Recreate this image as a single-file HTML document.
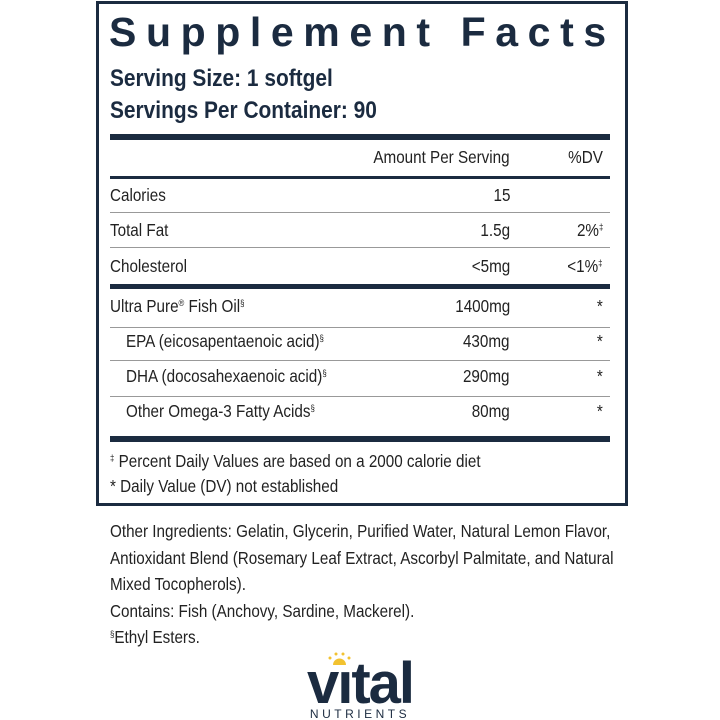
<!DOCTYPE html>
<html><head><meta charset="utf-8"><style>
body{margin:0;width:720px;height:720px;background:#fff;position:relative;overflow:hidden;font-family:"Liberation Sans",sans-serif;color:#222;}
.a{position:absolute;white-space:nowrap;}
.c{transform:scaleX(0.87);transform-origin:left top;}
.amt,.dv{transform:scaleX(0.87);transform-origin:right top;text-align:right;}
.amt{right:210px;}
.dv{right:117px;}
.box{position:absolute;left:96px;top:1px;width:526px;height:499px;border:3px solid #1b2b40;}
.r{position:absolute;left:110px;width:500px;background:#1b2b40;}
.t{font-size:17.5px;line-height:20px;}
sup{font-size:9px;vertical-align:6px;line-height:0;}
</style></head><body>
<div class="box"></div>
<div class="a" style="left:109px;top:10px;font-weight:bold;font-size:41px;line-height:44px;letter-spacing:9.6px;color:#1b2b40;">Supplement&nbsp;Facts</div>
<div class="a c" style="left:110px;top:65px;font-size:24px;font-weight:bold;color:#1b2b40;">Serving Size: 1 softgel</div>
<div class="a c" style="left:110px;top:97px;font-size:24px;font-weight:bold;color:#1b2b40;">Servings Per Container: 90</div>
<div class="r" style="top:134px;height:6px"></div>
<div class="a t amt" style="top:147px">Amount Per Serving</div>
<div class="a t dv" style="top:147px">%DV</div>
<div class="r" style="top:176px;height:3px"></div>
<div class="a t c" style="left:110px;top:185px">Calories</div><div class="a t amt" style="top:185px">15</div>
<div class="r" style="top:212px;height:1px;background:#999"></div>
<div class="a t c" style="left:110px;top:220px">Total Fat</div><div class="a t amt" style="top:220px">1.5g</div><div class="a t dv" style="top:220px">2%<sup>‡</sup></div>
<div class="r" style="top:247px;height:1px;background:#999"></div>
<div class="a t c" style="left:110px;top:256px">Cholesterol</div><div class="a t amt" style="top:256px">&lt;5mg</div><div class="a t dv" style="top:256px">&lt;1%<sup>‡</sup></div>
<div class="r" style="top:284px;height:5px"></div>
<div class="a t c" style="left:110px;top:296px">Ultra Pure<sup>®</sup> Fish Oil<sup>§</sup></div><div class="a t amt" style="top:296px">1400mg</div><div class="a t dv" style="top:296px">*</div>
<div class="r" style="top:327px;height:1px;background:#999"></div>
<div class="a t c" style="left:126px;top:331px">EPA (eicosapentaenoic acid)<sup>§</sup></div><div class="a t amt" style="top:331px">430mg</div><div class="a t dv" style="top:331px">*</div>
<div class="r" style="top:360px;height:1px;background:#999"></div>
<div class="a t c" style="left:126px;top:366px">DHA (docosahexaenoic acid)<sup>§</sup></div><div class="a t amt" style="top:366px">290mg</div><div class="a t dv" style="top:366px">*</div>
<div class="r" style="top:396px;height:1px;background:#999"></div>
<div class="a t c" style="left:126px;top:401px">Other Omega-3 Fatty Acids<sup>§</sup></div><div class="a t amt" style="top:401px">80mg</div><div class="a t dv" style="top:401px">*</div>
<div class="r" style="top:436px;height:6px"></div>
<div class="a t c" style="left:110px;top:451px"><sup>‡</sup> Percent Daily Values are based on a 2000 calorie diet</div>
<div class="a t c" style="left:110px;top:476px">* Daily Value (DV) not established</div>
<div class="a t c" style="left:110px;top:518px;line-height:26.5px;">Other Ingredients: Gelatin, Glycerin, Purified Water, Natural Lemon Flavor,<br>Antioxidant Blend (Rosemary Leaf Extract, Ascorbyl Palmitate, and Natural<br>Mixed Tocopherols).<br>Contains: Fish (Anchovy, Sardine, Mackerel).<br><sup>§</sup>Ethyl Esters.</div>
<svg class="a" style="left:298px;top:650px" width="125" height="70">
<text x="62" y="53" text-anchor="middle" font-family="Liberation Sans" font-weight="bold" font-size="58" fill="#1b2b40" letter-spacing="-2">vıtal</text>
<g fill="#f2c230"><circle cx="32" cy="8" r="1.5"/><circle cx="38" cy="4" r="1.5"/><circle cx="45" cy="4" r="1.5"/><circle cx="51" cy="8" r="1.5"/><path d="M35 15 a6 6 0 0 1 13 0z"/></g>
<text x="62" y="68" text-anchor="middle" font-family="Liberation Sans" font-size="12" fill="#1b2b40" letter-spacing="3.5">NUTRIENTS</text>
</svg>
</body></html>
